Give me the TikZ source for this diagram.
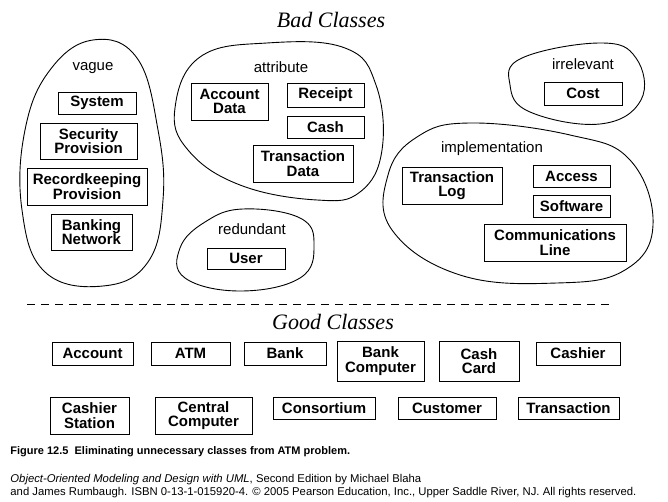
\documentclass[tikz,border=0pt]{standalone}
\usepackage{fontspec}
\setmainfont{Liberation Serif}
\setsansfont{Liberation Sans}
\usetikzlibrary{positioning}
\tikzstyle{classbox}=[draw,rectangle,inner sep=0pt,align=center,
                  font=\sffamily\bfseries\fontsize{15}{14.5}\selectfont]
\tikzstyle{blob}=[line width=0.9pt]
\tikzstyle{category}=[font=\sffamily\fontsize{15}{15}\selectfont]
\tikzstyle{heading}=[font=\itshape\fontsize{22}{22}\selectfont]
\tikzstyle{caption}=[anchor=west,inner sep=0pt,font=\sffamily\fontsize{11.3}{11.3}\selectfont]

\begin{document}
\begin{tikzpicture}[x=1pt, y=-1pt, line width=0.9pt]
      \useasboundingbox (0,0) rectangle (668,502);
      % Headings and separator
      \node[heading] (bad) at (331,20) {Bad Classes};
      \node[heading] (good) at (333,322) {Good Classes};
      \coordinate (sepl) at (27,304);
      \coordinate (sepr) at (613,304);
      \draw[dash pattern=on 8pt off 6pt] (sepl) -- (sepr);
      %
      % Blobs of bad classes
      \draw[blob] plot[smooth cycle, tension=0.7] coordinates {(93,40) (137,58) (158,130) (163,200) (148,262) (103,286) (45,272) (22,210) (25,130) (50,70)};
      \draw[blob] plot[smooth cycle, tension=0.7] coordinates {(200,57) (267,43) (345,48) (376,85) (382,150) (360,192) (317,200) (240,185) (188,150) (175,108)};
      \draw[blob] plot[smooth cycle, tension=0.7] coordinates {(243,209) (300,218) (314,245) (300,278) (240,291) (185,278) (180,248) (205,222)};
      \draw[blob] plot[smooth cycle, tension=0.7] coordinates {(600,43) (636,58) (641,100) (600,124) (530,112) (510,85) (522,58)};
      \draw[blob] plot[smooth cycle, tension=0.7] coordinates {(470,123) (570,135) (630,160) (653,225) (625,270) (557,283) (460,275) (392,230) (388,175) (417,137)};
      \foreach \place/\name/\txt in {{(93,68)/vague/vague}, {(281,67)/attribute/attribute},
          {(252,229)/redundant/redundant}, {(583,64)/irrelevant/irrelevant},
          {(492,149)/implementation/implementation}}
        \node[category] (\name) at \place {\txt};
      %
      % Bad classes
      \foreach \place/\w/\h/\name/\txt in {{(97,103)/78/22/sys/System},
          {(88.5,141)/97/36/secprov/Security\\Provision},
          {(87,186.5)/120/37/recprov/Recordkeeping\\Provision},
          {(91.5,232)/81/36/banknet/Banking\\Network},
          {(229.5,101.5)/77/37/accdata/Account\\Data},
          {(325.5,95)/77/24/receipt/Receipt},
          {(325.5,127)/77/22/cash/Cash},
          {(303,163.5)/100/37/transdata/Transaction\\Data},
          {(246,258.5)/78/21/user/User},
          {(583,93.5)/78/23/cost/Cost},
          {(452,185.5)/100/37/translog/Transaction\\Log},
          {(571.5,176)/77/22/access/Access},
          {(571.5,206)/77/22/software/Software},
          {(555,242.5)/142/37/commline/Communications\\Line}}
        \node[classbox, minimum width=\w pt, minimum height=\h pt] (\name) at \place {\txt};
      %
      % Good classes
      \foreach \place/\w/\h/\name/\txt in {{(92.5,353.5)/81/23/account/Account},
          {(190.5,353.5)/79/23/atm/ATM},
          {(285,353.5)/82/23/bank/Bank},
          {(380.5,361)/87/40/bankcomp/Bank\\Computer},
          {(479,361)/80/40/cashcard/Cash\\Card},
          {(578,353.5)/84/23/cashier/Cashier},
          {(89.5,415.5)/79/37/cashstat/Cashier\\Station},
          {(203.5,415.5)/97/37/centcomp/Central\\Computer},
          {(324,408)/102/22/consort/Consortium},
          {(447,408)/98/22/customer/Customer},
          {(568.5,408)/101/22/transaction/Transaction}}
        \node[classbox, minimum width=\w pt, minimum height=\h pt] (\name) at \place {\txt};
      %
      % Caption and credits
      \node[caption, font=\sffamily\bfseries\fontsize{11}{11}\selectfont] (fig) at (10,452)
        {Figure 12.5\ \ Eliminating unnecessary classes from ATM problem.};
      \node[caption] (cred1) at (10,480)
        {\textit{Object-Oriented Modeling and Design with UML}, Second Edition by Michael Blaha};
      \node[caption] (cred2) at (10,493)
        {and James Rumbaugh. ISBN 0-13-1-015920-4. \textcopyright{} 2005 Pearson Education, Inc., Upper Saddle River, NJ. All rights reserved.};
    \end{tikzpicture}
\end{document}
